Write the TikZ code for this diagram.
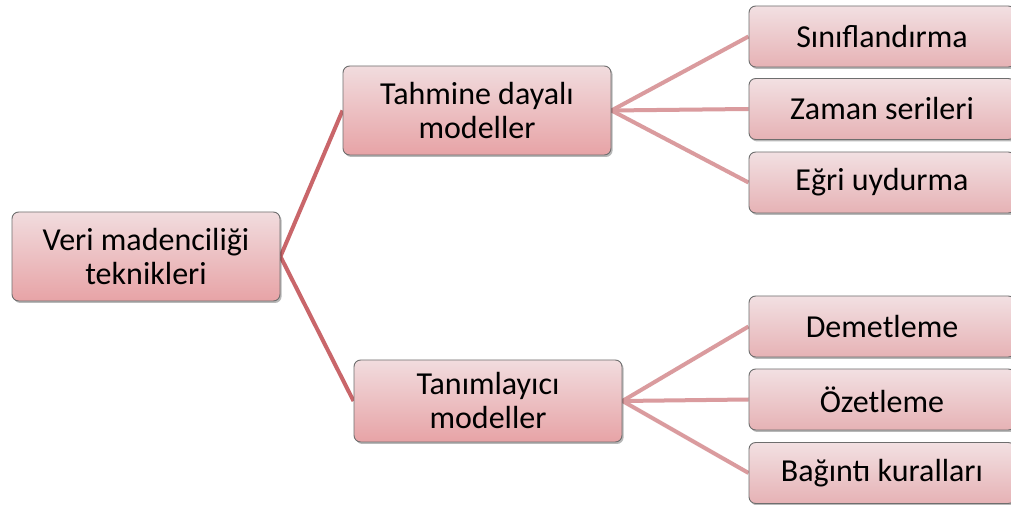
\documentclass[tikz,border=0pt]{standalone}
\usepackage{fontspec}
\setmainfont{Carlito}
\usetikzlibrary{shadows,backgrounds}
\definecolor{boxtop}{RGB}{241,220,222}
\definecolor{boxbot}{RGB}{231,163,166}
\definecolor{leaftop}{RGB}{242,224,226}
\definecolor{leafbot}{RGB}{230,178,181}
\definecolor{edgeone}{RGB}{201,102,106}
\definecolor{edgetwo}{RGB}{218,155,158}
\definecolor{boxline}{RGB}{110,110,110}
\tikzset{
  basebox/.style={rectangle, rounded corners=5pt, draw=boxline, line width=0.7pt,
    align=center, font=\fontsize{24}{25.5}\selectfont, text=black,
    drop shadow={shadow xshift=1.2pt, shadow yshift=-1.5pt, fill=black, opacity=0.28},
    inner sep=0pt},
  bigbox/.style={basebox, top color=boxtop, bottom color=boxbot,
    minimum width=201pt, minimum height=66.75pt},
  midbox/.style={basebox, top color=boxtop, bottom color=boxbot,
    minimum width=201pt, minimum height=61.5pt},
  leafbox/.style={basebox, top color=leaftop, bottom color=leafbot,
    minimum width=199.5pt, minimum height=45.75pt},
  linkone/.style={draw=edgeone, line width=3pt},
  linktwo/.style={draw=edgetwo, line width=3pt}
}
\begin{document}
\begin{tikzpicture}[x=0.75pt,y=-0.75pt]
\useasboundingbox (0,0) rectangle (1011,505);
\node[bigbox] (root) at (146,256.5) {Veri madenciliği\\teknikleri};
\node[bigbox] (tah) at (477,110.5) {Tahmine dayalı\\modeller};
\node[midbox] (tan) at (488,401) {Tanımlayıcı\\modeller};
\node[leafbox] (l1) at (882,36.5) {Sınıflandırma};
\node[leafbox] (l2) at (882,109) {Zaman serileri};
\node[leafbox] (l3) at (882,182.5) {Eğri uydurma};
\node[leafbox] (l4) at (882,326.5) {Demetleme};
\node[leafbox] (l5) at (882,399.5) {Özetleme};
\node[leafbox] (l6) at (882,473) {Bağıntı kuralları};
\begin{scope}[on background layer]
\fill[white] (0,0) rectangle (1011,505);
\draw[linkone] (root.east) -- (tah.west);
\draw[linkone] (root.east) -- (tan.west);
\draw[linktwo] (tah.east) -- (l1.west);
\draw[linktwo] (tah.east) -- (l2.west);
\draw[linktwo] (tah.east) -- (l3.west);
\draw[linktwo] (tan.east) -- (l4.west);
\draw[linktwo] (tan.east) -- (l5.west);
\draw[linktwo] (tan.east) -- (l6.west);
\end{scope}
\end{tikzpicture}
\end{document}
